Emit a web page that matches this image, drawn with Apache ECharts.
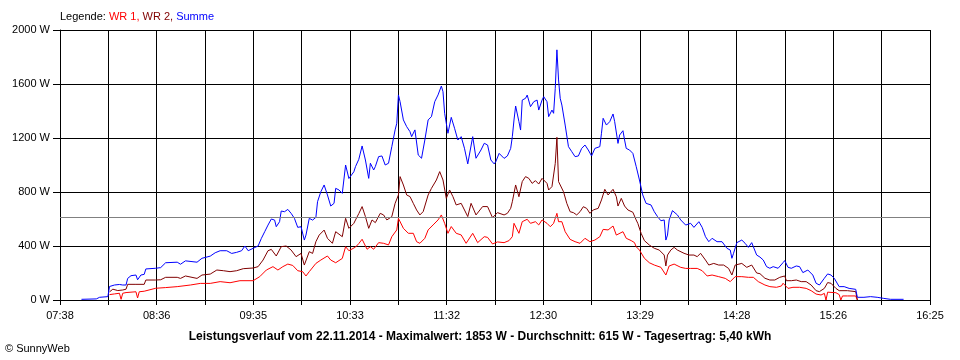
<!DOCTYPE html>
<html>
<head>
<meta charset="utf-8">
<script src="https://cdn.jsdelivr.net/npm/echarts@6/dist/echarts.min.js"></script>
<style>html,body{margin:0;padding:0;background:#fff}#c{width:960px;height:360px}</style>
</head>
<body>
<div id="c"></div>
<script>
// ---- data ----
const axisStart = '07:38';
const axisEnd = '16:25';
const tickLabels = ['07:38','08:36','09:35','10:33','11:32','12:30','13:29','14:28','15:26','16:25'];
const yTicks = [0, 400, 800, 1200, 1600, 2000];
const average = 615;

const wr1Times = ['08:08','08:11','08:14','08:15','08:16','08:18','08:19','08:24','08:25','08:26','08:29','08:30','08:36','08:42','08:49','08:57','09:03','09:09','09:15','09:21','09:27','09:35','09:39','09:43','09:47','09:50','09:53','09:56','09:59','10:02','10:05','10:07','10:09','10:13','10:16','10:20','10:22','10:25','10:29','10:31','10:33','10:37','10:39','10:41','10:44','10:46','10:48','10:51','10:54','10:57','10:59','11:02','11:03','11:06','11:09','11:12','11:14','11:16','11:19','11:21','11:24','11:27','11:29','11:31','11:33','11:35','11:38','11:41','11:44','11:48','11:51','11:55','11:57','12:00','12:03','12:07','12:10','12:12','12:13','12:16','12:18','12:21','12:23','12:26','12:28','12:30','12:33','12:35','12:37','12:39','12:40','12:42','12:44','12:47','12:50','12:53','12:56','12:59','13:02','13:05','13:07','13:10','13:13','13:15','13:19','13:21','13:24','13:26','13:27','13:29','13:32','13:35','13:38','13:42','13:45','13:47','13:50','13:54','13:57','14:00','14:04','14:07','14:10','14:13','14:17','14:21','14:24','14:27','14:31','14:35','14:38','14:41','14:42','14:45','14:48','14:52','14:55','14:56','14:59','15:02','15:06','15:10','15:13','15:16','15:19','15:21','15:22','15:23','15:24','15:28','15:30','15:31','15:32','15:35','15:40','15:41'];
const wr1Values = [40,45,50,5,50,55,61,61,15,61,65,74,87,92,99,111,123,123,136,128,143,143,173,222,247,222,247,266,256,217,210,178,210,271,296,326,296,276,308,395,365,392,418,450,376,395,376,425,420,408,469,519,605,531,494,494,432,420,457,519,556,593,630,568,494,544,494,482,420,494,425,469,464,415,430,425,440,469,568,494,580,598,568,580,556,593,568,543,568,642,580,580,506,449,432,420,457,432,444,469,523,519,548,481,506,457,440,425,395,370,309,276,259,242,185,252,266,242,234,234,234,217,178,185,173,160,136,173,173,168,168,136,129,111,99,94,104,124,86,94,94,86,69,44,37,49,0,58,62,54,40,0,30,30,30,0];

const wr2Times = ['08:08','08:10','08:13','08:16','08:18','08:19','08:24','08:29','08:30','08:36','08:39','08:42','08:49','08:51','08:54','09:01','09:04','09:09','09:13','09:17','09:21','09:25','09:29','09:35','09:38','09:41','09:44','09:46','09:49','09:52','09:55','09:58','10:01','10:04','10:06','10:09','10:11','10:13','10:15','10:18','10:20','10:23','10:25','10:29','10:31','10:33','10:36','10:37','10:39','10:41','10:43','10:45','10:47','10:49','10:52','10:54','10:56','10:59','11:01','11:03','11:04','11:06','11:08','11:10','11:12','11:14','11:16','11:18','11:21','11:23','11:26','11:28','11:30','11:32','11:34','11:36','11:38','11:41','11:45','11:47','11:50','11:54','11:57','12:00','12:03','12:07','12:09','12:11','12:12','12:14','12:16','12:18','12:20','12:22','12:24','12:26','12:28','12:30','12:31','12:33','12:34','12:36','12:38','12:39','12:40','12:41','12:43','12:45','12:47','12:49','12:51','12:53','12:55','12:57','12:59','13:01','13:04','13:06','13:08','13:10','13:13','13:15','13:16','13:18','13:20','13:22','13:25','13:27','13:28','13:30','13:32','13:35','13:38','13:41','13:44','13:45','13:46','13:48','13:50','13:52','13:56','13:59','14:02','14:04','14:06','14:09','14:11','14:14','14:17','14:20','14:23','14:25','14:27','14:31','14:34','14:37','14:40','14:42','14:45','14:48','14:51','14:54','14:57','14:58','15:01','15:04','15:07','15:10','15:13','15:16','15:18','15:21','15:23','15:25','15:28','15:30','15:35','15:40','15:41'];
const wr2Values = [60,80,70,74,80,116,116,116,148,148,150,168,168,160,178,160,185,192,222,217,210,217,232,237,247,296,365,375,326,395,400,370,321,345,259,358,345,432,481,518,457,420,506,469,605,531,568,593,640,692,618,531,593,573,642,630,593,618,716,778,914,852,778,766,716,667,630,655,778,827,889,951,889,753,815,766,704,716,618,716,630,692,692,610,647,630,642,679,728,852,765,877,914,901,864,884,859,901,914,864,815,840,1012,1205,877,889,802,716,654,647,630,654,691,679,642,667,679,741,820,778,820,765,696,753,696,667,650,593,568,494,440,407,383,370,333,252,333,370,390,370,346,333,333,321,346,296,259,271,259,259,234,185,259,271,242,259,200,195,161,148,148,168,178,143,143,148,136,136,111,69,62,86,129,124,86,69,69,62,0];

const sumTimes = ['07:51','08:00','08:02','08:07','08:08','08:11','08:14','08:16','08:18','08:19','08:21','08:24','08:25','08:27','08:29','08:30','08:36','08:39','08:42','08:49','08:51','08:54','09:01','09:04','09:09','09:12','09:15','09:19','09:22','09:25','09:28','09:30','09:32','09:35','09:38','09:40','09:42','09:44','09:46','09:48','09:49','09:51','09:52','09:54','09:56','09:58','10:00','10:02','10:04','10:06','10:07','10:09','10:11','10:13','10:14','10:16','10:18','10:19','10:20','10:22','10:24','10:25','10:27','10:29','10:31','10:32','10:33','10:36','10:37','10:39','10:41','10:43','10:45','10:46','10:48','10:49','10:51','10:53','10:55','10:57','10:59','11:01','11:02','11:03','11:04','11:06','11:08','11:10','11:11','11:13','11:15','11:17','11:19','11:21','11:23','11:25','11:27','11:29','11:30','11:31','11:33','11:35','11:37','11:39','11:41','11:43','11:45','11:48','11:50','11:53','11:55','11:57','11:59','12:01','12:02','12:04','12:07','12:09','12:11','12:12','12:13','12:14','12:16','12:17','12:18','12:20','12:21','12:23','12:25','12:27','12:28','12:30','12:31','12:33','12:34','12:36','12:37','12:38','12:39','12:40','12:41','12:42','12:44','12:46','12:48','12:50','12:52','12:54','12:56','12:58','13:00','13:02','13:05','13:06','13:07','13:09','13:11','13:13','13:14','13:16','13:17','13:19','13:20','13:21','13:23','13:25','13:27','13:29','13:31','13:33','13:36','13:38','13:40','13:42','13:44','13:45','13:46','13:47','13:49','13:52','13:54','13:57','14:00','14:02','14:05','14:07','14:09','14:11','14:13','14:16','14:19','14:22','14:24','14:25','14:26','14:28','14:31','14:33','14:35','14:37','14:40','14:42','14:44','14:46','14:48','14:50','14:53','14:56','14:57','14:59','15:01','15:04','15:06','15:08','15:11','15:14','15:16','15:18','15:21','15:23','15:25','15:27','15:29','15:30','15:33','15:36','15:40','15:41','15:45','15:49','15:53','15:57','16:01','16:09'];
const sumValues = [5,8,20,25,100,111,115,111,111,160,180,185,150,185,190,230,235,240,276,280,265,290,280,309,325,350,365,365,345,353,365,400,365,383,400,457,506,555,600,592,543,580,659,654,671,642,605,538,543,444,481,605,592,612,728,802,852,864,778,696,716,827,815,790,1000,1000,900,950,988,1042,1141,1037,901,1013,963,988,1062,1067,1000,1013,1136,1260,1309,1519,1469,1334,1284,1247,1210,1260,1074,1050,1185,1334,1358,1469,1519,1585,1543,1383,1235,1353,1272,1185,1210,1124,1008,1210,1050,1111,1161,1148,1037,1008,1025,1086,1049,1067,1123,1210,1333,1437,1321,1259,1481,1494,1518,1432,1469,1481,1407,1481,1506,1469,1358,1407,1383,1568,1853,1630,1494,1444,1296,1136,1099,1062,1067,1123,1148,1111,1067,1123,1136,1235,1346,1296,1321,1378,1321,1160,1222,1254,1185,1123,1111,1086,990,889,778,716,704,654,617,587,593,444,481,593,662,630,593,555,568,538,580,538,469,432,457,432,432,383,370,309,346,425,444,420,390,425,333,318,296,247,235,247,235,277,292,242,235,252,247,203,222,185,124,111,161,193,185,161,119,99,99,86,79,20,20,25,20,12,5,5];

// ---- chart ----
function toMin(t) { const p = t.split(':'); return (+p[0]) * 60 + (+p[1]); }
const t0 = toMin(axisStart);
const span = toMin(axisEnd) - t0;
const step = span / 18;
function pairs(times, vals) { return times.map((t, i) => [toMin(t) - t0, vals[i]]); }

const FONT = 'Liberation Sans, Arial, sans-serif';
const chart = echarts.init(document.getElementById('c'), null, { renderer: 'canvas' });
chart.setOption({
  backgroundColor: '#ffffff',
  animation: false,
  title: [
    {
      left: 60, top: 10, padding: 0,
      text: '{k|Legende: }{a|WR 1, }{b|WR 2, }{c|Summe}',
      textStyle: {
        fontFamily: FONT, fontSize: 11, fontWeight: 'normal',
        rich: {
          k: { color: '#000000', fontSize: 11, fontFamily: FONT, lineHeight: 13 },
          a: { color: '#ff0000', fontSize: 11, fontFamily: FONT, lineHeight: 13 },
          b: { color: '#800000', fontSize: 11, fontFamily: FONT, lineHeight: 13 },
          c: { color: '#0000ff', fontSize: 11, fontFamily: FONT, lineHeight: 13 }
        }
      }
    },
    {
      left: 'center', top: 330, padding: 0,
      text: 'Leistungsverlauf vom 22.11.2014 - Maximalwert: 1853 W - Durchschnitt: 615 W - Tagesertrag: 5,40 kWh',
      textStyle: { fontFamily: FONT, fontSize: 12, fontWeight: 'bold', color: '#000000', lineHeight: 14 }
    },
    {
      left: 5, top: 342, padding: 0,
      text: '© SunnyWeb',
      textStyle: { fontFamily: FONT, fontSize: 11, fontWeight: 'normal', color: '#000000', lineHeight: 13 }
    }
  ],
  grid: { left: 60, right: 30, top: 30, bottom: 60, containLabel: false },
  xAxis: {
    type: 'value', min: 0, max: span, interval: step,
    axisLine: { show: true, lineStyle: { color: '#000000', width: 1 } },
    axisTick: { show: true, length: 5, lineStyle: { color: '#000000' } },
    splitLine: { show: true, lineStyle: { color: '#000000', width: 1 } },
    axisLabel: {
      margin: 10, color: '#000000', fontFamily: FONT, fontSize: 11,
      showMinLabel: true, showMaxLabel: true,
      formatter: function (v) {
        const i = Math.round(v / step);
        return (i % 2 === 0) ? (tickLabels[i / 2] || '') : '';
      }
    }
  },
  yAxis: {
    type: 'value', min: yTicks[0], max: yTicks[yTicks.length - 1], interval: yTicks[1] - yTicks[0],
    axisLine: { show: true, lineStyle: { color: '#000000', width: 1 } },
    axisTick: { show: true, length: 7, lineStyle: { color: '#000000' } },
    splitLine: { show: true, lineStyle: { color: '#000000', width: 1 } },
    axisLabel: {
      margin: 10, color: '#000000', fontFamily: FONT, fontSize: 11,
      formatter: function (v) { return String(Math.round(v)) + ' W'; }
    }
  },
  series: [
    {
      name: 'WR 1', type: 'line', data: pairs(wr1Times, wr1Values),
      showSymbol: false, symbol: 'none', lineStyle: { color: '#ff0000', width: 1 }, itemStyle: { color: '#ff0000' },
      markLine: {
        silent: true, symbol: 'none', label: { show: false },
        lineStyle: { color: '#808080', type: 'solid', width: 1 },
        data: [{ yAxis: average }]
      }
    },
    {
      name: 'WR 2', type: 'line', data: pairs(wr2Times, wr2Values),
      showSymbol: false, symbol: 'none', lineStyle: { color: '#800000', width: 1 }, itemStyle: { color: '#800000' }
    },
    {
      name: 'Summe', type: 'line', data: pairs(sumTimes, sumValues),
      showSymbol: false, symbol: 'none', lineStyle: { color: '#0000ff', width: 1 }, itemStyle: { color: '#0000ff' }
    }
  ]
});
</script>
</body>
</html>
